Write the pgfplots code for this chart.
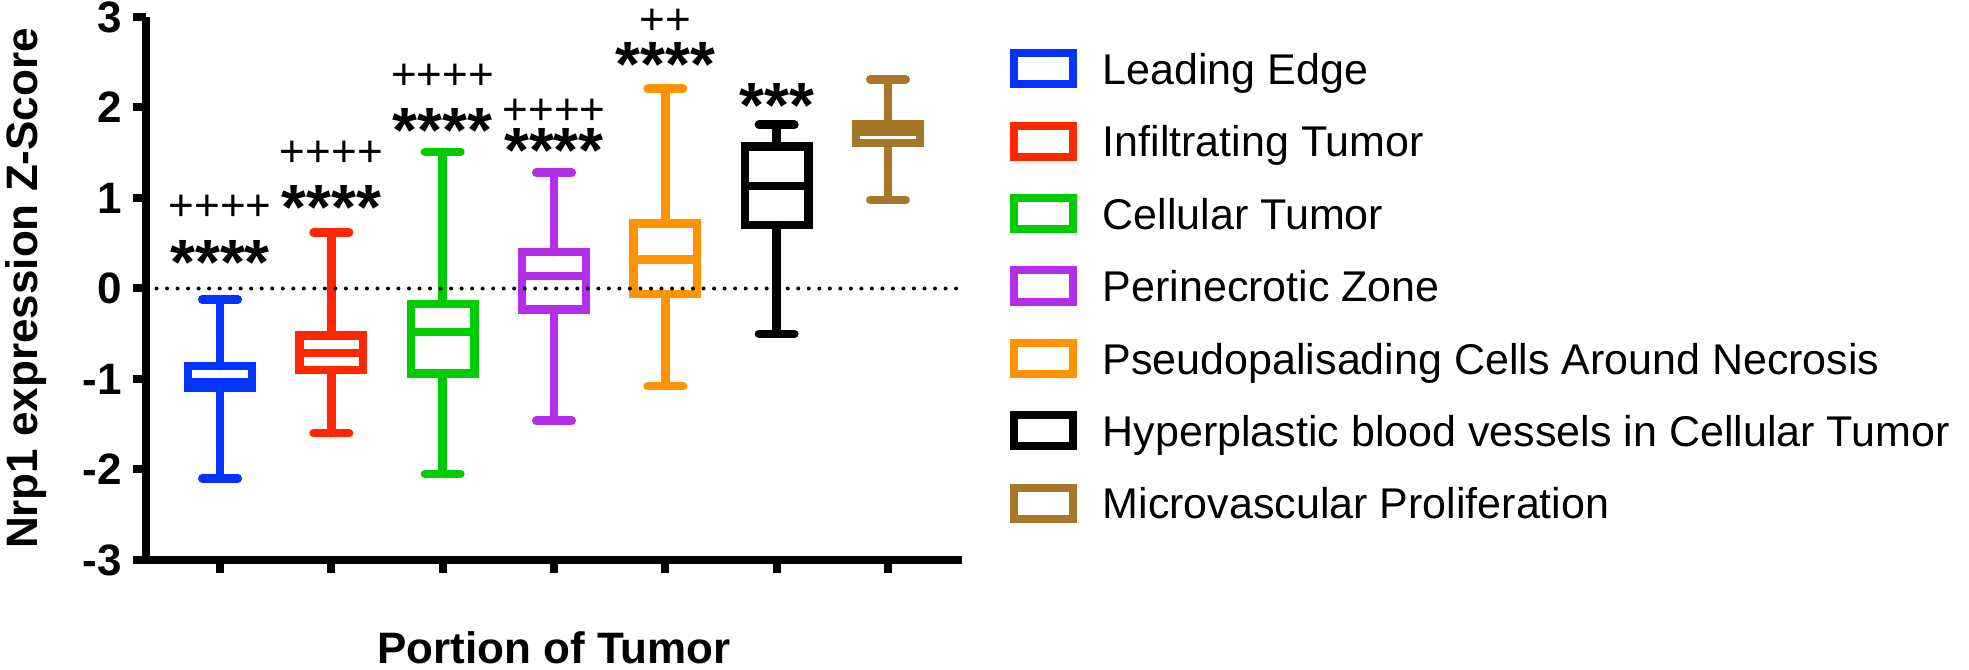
\documentclass[border=0pt]{standalone}
\usepackage{fontspec}
\setmainfont{Liberation Sans}
\usepackage{pgfplots}
\pgfplotsset{compat=1.18}
\usepgfplotslibrary{statistics}
\definecolor{cBlue}{HTML}{0433FF}
\definecolor{cRed}{HTML}{FF2600}
\definecolor{cGreen}{HTML}{00CC00}
\definecolor{cPurple}{HTML}{B42EE8}
\definecolor{cOrange}{HTML}{FF9300}
\definecolor{cBrown}{HTML}{A8782A}
\pgfplotsset{legbox/.style={legend image code/.code={\draw[##1,line width=2pt,fill=none] (0pt,0pt) rectangle (14.7pt,7.8pt);}},
  bp/.style={line width=2.1pt, solid, forget plot, boxplot/draw direction=y,
    boxplot/box extend=0.571, boxplot/whisker extend=0.32,
    boxplot/every whisker/.style={line cap=round}}}
\tikzset{stars/.style={anchor=base, inner sep=0pt, font=\bfseries\fontsize{16}{16}\selectfont},
  pluses/.style={anchor=base, inner sep=0pt, font=\fontsize{11}{11}\selectfont}}
\begin{document}
\begin{tikzpicture}
\begin{axis}[
  at={(0pt,0pt)}, anchor=south west,
  scale only axis, width=204pt, height=135.75pt,
  xmin=-0.665, xmax=6.665, ymin=-3, ymax=3,
  axis x line*=bottom, axis y line*=left,
  axis line style={line width=2.1pt, -},
  xtick={0,...,6}, xticklabels={},
  ytick={-3,...,3}, yticklabels={-3,-2,-1,0,1,2,3},
  tick align=outside, major tick length=3.2pt,
  tick style={line width=2pt, black},
  yticklabel style={font=\bfseries\fontsize{11}{13}\selectfont, inner sep=0pt, xshift=-2.7pt},
  xlabel={Portion of Tumor}, ylabel={Nrp1 expression Z-Score},
  xlabel style={at={(axis description cs:0.5,0)}, anchor=base, yshift=-26pt, font=\bfseries\fontsize{11}{13}\selectfont},
  ylabel style={at={(axis description cs:-0.1324,0.5)}, anchor=base, font=\bfseries\fontsize{11}{13}\selectfont},
  clip=false,
  legend style={at={(axis description cs:1.0593,0.9569)}, anchor=north west, draw=none, fill=none,
    inner sep=0pt, outer sep=0pt, row sep=3.6pt,
    font=\fontsize{10.75}{13}\selectfont,
    cells={anchor=base west, inner sep=0pt, text height=9pt, text depth=2.3pt},
    /tikz/every odd column/.append style={column sep=4.4pt}},
]
\addplot[draw=cBlue, bp,
  boxplot prepared={draw position=0, lower whisker=-2.10, lower quartile=-1.10, median=-1.035, upper quartile=-0.857, upper whisker=-0.12}] coordinates {};
\addplot[draw=cRed, bp,
  boxplot prepared={draw position=1, lower whisker=-1.60, lower quartile=-0.90, median=-0.71, upper quartile=-0.52, upper whisker=0.62}] coordinates {};
\addplot[draw=cGreen, bp,
  boxplot prepared={draw position=2, lower whisker=-2.05, lower quartile=-0.94, median=-0.48, upper quartile=-0.17, upper whisker=1.51}] coordinates {};
\addplot[draw=cPurple, bp,
  boxplot prepared={draw position=3, lower whisker=-1.46, lower quartile=-0.23, median=0.14, upper quartile=0.40, upper whisker=1.28}] coordinates {};
\addplot[draw=cOrange, bp,
  boxplot prepared={draw position=4, lower whisker=-1.08, lower quartile=-0.06, median=0.32, upper quartile=0.72, upper whisker=2.21}] coordinates {};
\addplot[draw=black, bp,
  boxplot prepared={draw position=5, lower whisker=-0.50, lower quartile=0.70, median=1.13, upper quartile=1.57, upper whisker=1.81}] coordinates {};
\addplot[draw=cBrown, bp,
  boxplot prepared={draw position=6, lower whisker=0.98, lower quartile=1.61, median=1.73, upper quartile=1.82, upper whisker=2.31}] coordinates {};
\addplot[black, line width=1pt, dash pattern=on 0pt off 2.63pt, line cap=round, forget plot] coordinates {(-0.665,0) (6.665,0)};

\addlegendimage{legbox, draw=cBlue}\addlegendentry{Leading Edge}
\addlegendimage{legbox, draw=cRed}\addlegendentry{Infiltrating Tumor}
\addlegendimage{legbox, draw=cGreen}\addlegendentry{Cellular Tumor}
\addlegendimage{legbox, draw=cPurple}\addlegendentry{Perinecrotic Zone}
\addlegendimage{legbox, draw=cOrange}\addlegendentry{Pseudopalisading Cells Around Necrosis}
\addlegendimage{legbox, draw=black}\addlegendentry{Hyperplastic blood vessels in Cellular Tumor}
\addlegendimage{legbox, draw=cBrown}\addlegendentry{Microvascular Proliferation}

\node[stars] at (axis cs:0,0.045) {****};
\node[stars] at (axis cs:1,0.65) {****};
\node[stars] at (axis cs:2,1.505) {****};
\node[stars] at (axis cs:3,1.285) {****};
\node[stars] at (axis cs:4,2.23) {****};
\node[stars] at (axis cs:5,1.78) {***};
\node[pluses] at (axis cs:0,0.755) {++++};
\node[pluses] at (axis cs:1,1.35) {++++};
\node[pluses] at (axis cs:2,2.20) {++++};
\node[pluses] at (axis cs:3,1.81) {++++};
\node[pluses] at (axis cs:4,2.81) {++};
\end{axis}
\pgfresetboundingbox
\path[use as bounding box] (-36.5pt,-27.5pt) rectangle (455.75pt,140pt);
\end{tikzpicture}
\end{document}
